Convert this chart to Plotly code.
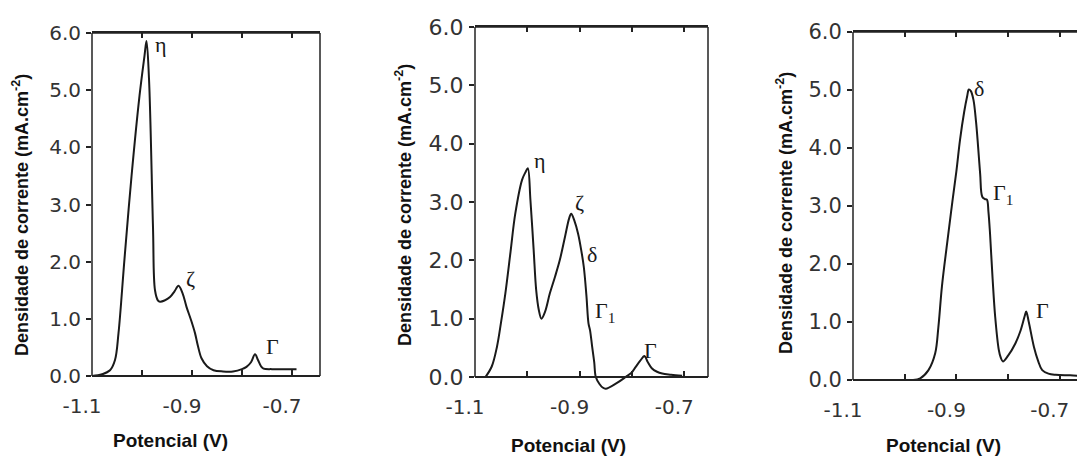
import plotly.graph_objects as go

# ---------------- data ----------------
x1 = [-1.100, -1.080, -1.064, -1.054, -1.047, -1.035, -1.021, -1.005, -0.995, -0.991,
      -0.986, -0.978, -0.974, -0.968, -0.964, -0.955, -0.944, -0.935, -0.927, -0.919,
      -0.911, -0.902, -0.894, -0.888, -0.881, -0.870, -0.857, -0.838, -0.818, -0.800,
      -0.791, -0.782, -0.774, -0.768, -0.762, -0.757, -0.740, -0.720, -0.691]
y1 = [0.00, 0.03, 0.10, 0.28, 0.75, 2.05, 3.49, 4.90, 5.60, 5.86,
      5.20, 2.60, 1.50, 1.32, 1.30, 1.32, 1.38, 1.48, 1.58, 1.45,
      1.21, 0.98, 0.75, 0.52, 0.31, 0.17, 0.10, 0.08, 0.08, 0.12,
      0.16, 0.24, 0.38, 0.28, 0.17, 0.13, 0.12, 0.12, 0.12]

x2 = [-1.080, -1.068, -1.058, -1.050, -1.042, -1.032, -1.023, -1.010, -1.003, -0.999,
      -0.994, -0.988, -0.983, -0.978, -0.973, -0.966, -0.957, -0.947, -0.938, -0.928,
      -0.920, -0.916, -0.910, -0.903, -0.897, -0.892, -0.887, -0.883, -0.880, -0.876,
      -0.872, -0.869, -0.862, -0.856, -0.850, -0.830, -0.812, -0.800, -0.793, -0.784,
      -0.776, -0.770, -0.762, -0.752, -0.742, -0.725, -0.704]
y2 = [0.00, 0.18, 0.52, 0.95, 1.43, 2.15, 2.80, 3.38, 3.52, 3.58,
      3.03, 2.20, 1.49, 1.15, 1.00, 1.12, 1.43, 1.72, 2.00, 2.40,
      2.72, 2.80, 2.68, 2.46, 2.18, 1.89, 1.40, 0.92, 0.80, 0.52,
      0.25, 0.00, -0.12, -0.18, -0.20, -0.11, 0.00, 0.08, 0.17, 0.28,
      0.36, 0.26, 0.15, 0.09, 0.06, 0.04, 0.02]

x3 = [-1.100, -1.050, -1.000, -0.986, -0.970, -0.954, -0.941, -0.935, -0.928, -0.918,
      -0.909, -0.900, -0.893, -0.885, -0.879, -0.876, -0.872, -0.867, -0.862, -0.858,
      -0.854, -0.850, -0.845, -0.841, -0.838, -0.835, -0.830, -0.825, -0.818, -0.814,
      -0.810, -0.800, -0.786, -0.776, -0.768, -0.765, -0.760, -0.750, -0.742, -0.734,
      -0.722, -0.708, -0.680, -0.659]
y3 = [0.00, 0.00, 0.00, 0.00, 0.03, 0.17, 0.46, 0.90, 1.61, 2.35,
      2.99, 3.60, 4.14, 4.62, 4.90, 5.01, 4.98, 4.83, 4.45, 4.02,
      3.55, 3.16, 3.12, 3.11, 2.90, 2.53, 1.75, 1.09, 0.52, 0.38,
      0.32, 0.42, 0.63, 0.85, 1.10, 1.18, 1.00, 0.57, 0.33, 0.17,
      0.11, 0.09, 0.08, 0.07]

x_tick_vals = [-1.1, -0.9, -0.7]
x_tick_text = ["-1.1", "-0.9", "-0.7"]
x_minor_vals = [-1.0, -0.8]
y_tick_vals = [0, 1, 2, 3, 4, 5, 6]
y_tick_text = ["0.0", "1.0", "2.0", "3.0", "4.0", "5.0", "6.0"]

x_title = "Potencial (V)"
y_title = "Densidade de corrente (mA.cm<sup>-2</sup>)"

# peak labels: (panel, x, y, text)
peak_labels = [
    (1, -0.962, 5.80, "η"), (1, -0.904, 1.70, "ζ"), (1, -0.740, 0.52, "Γ"),
    (2, -0.976, 3.72, "η"), (2, -0.900, 3.00, "ζ"), (2, -0.876, 2.10, "δ"),
    (2, -0.852, 1.12, "Γ<sub>1</sub>"), (2, -0.765, 0.45, "Γ"),
    (3, -0.857, 5.02, "δ"), (3, -0.810, 3.20, "Γ<sub>1</sub>"), (3, -0.734, 1.20, "Γ"),
]

# ---------------- figure ----------------
W, H = 1077, 465
fig = go.Figure()
line = dict(color="#1a1a1a", width=2)
for i, (xs, ys) in enumerate([(x1, y1), (x2, y2), (x3, y3)], start=1):
    sfx = "" if i == 1 else str(i)
    fig.add_trace(go.Scatter(x=xs, y=ys, mode="lines", line=line, line_shape="spline",
                             xaxis="x" + sfx, yaxis="y" + sfx, showlegend=False,
                             hoverinfo="skip"))
    # empty trace so the top frame axis gets its own (transparent) subplot
    fig.add_trace(go.Scatter(x=[], y=[], mode="lines", xaxis="x" + str(i + 3),
                             yaxis="y" + sfx, showlegend=False, hoverinfo="skip"))

# panel geometry in pixels: (left, right, y0 pixel, y6 pixel, xmax, ytickfont, ymin)
panels = [
    (92, 320, 376, 33, -1.1 + 228 / 500, 20, 0.0),
    (475, 708, 377, 27, -1.1 + 233 / 523, 22, -0.3),
    (853, 1077, 380, 32, -1.1 + 224 / 517, 21, 0.0),
]

axc = "#222"
tickstyle = dict(ticks="inside", ticklen=5, tickwidth=1.5, tickcolor=axc)
layout = dict(width=W, height=H, margin=dict(l=0, r=0, t=0, b=0, autoexpand=False),
              paper_bgcolor="white", plot_bgcolor="rgba(0,0,0,0)")
shapes = []
for i, (l, r, p0, p6, xmax, yfs, ymin) in enumerate(panels, start=1):
    sfx = "" if i == 1 else str(i)
    ppu = (p0 - p6) / 6.0
    pbot = p0 - ymin * ppu
    dom = [l / W, min(r / W, 1.0)]
    layout["xaxis" + sfx] = dict(
        domain=dom, range=[-1.1, xmax],
        anchor="free", position=1 - p0 / H, automargin=False,
        tickmode="array", tickvals=x_tick_vals, ticktext=x_tick_text,
        minor=dict(tickvals=x_minor_vals, **tickstyle), **tickstyle,
        showline=True, linecolor=axc, linewidth=1.5,
        showgrid=False, zeroline=False, ticklabelshift=-10, ticklabelstandoff=12,
        tickfont=dict(family="DejaVu Sans", size=20, color="#333"),
    )
    # top frame axis (ticks only, inside)
    layout["xaxis" + str(i + 3)] = dict(
        domain=dom, range=[-1.1, xmax], anchor="y" + sfx, side="top",
        matches="x" + sfx, automargin=False,
        tickmode="array", tickvals=x_tick_vals, showticklabels=False,
        minor=dict(tickvals=x_minor_vals, **tickstyle), **tickstyle,
        showline=True, linecolor=axc, linewidth=1.5, showgrid=False, zeroline=False,
    )
    layout["yaxis" + sfx] = dict(
        domain=[1 - pbot / H, 1 - p6 / H], range=[ymin, 6], anchor="x" + sfx,
        automargin=False,
        tickmode="array", tickvals=y_tick_vals, ticktext=y_tick_text,
        ticks="outside", ticklen=5, tickwidth=1.5, tickcolor=axc,
        showline=False, showgrid=False, zeroline=False, ticklabelstandoff=1,
        tickfont=dict(family="DejaVu Sans", size=yfs, color="#333"),
    )
    xr = "x" + sfx + " domain"
    yr = "y" + sfx
    frame = dict(color=axc, width=1.5)
    shapes.append(dict(type="line", xref=xr, yref=yr, x0=0, x1=0, y0=0, y1=6, line=frame))
    shapes.append(dict(type="line", xref=xr, yref=yr, x0=0, x1=1, y0=6, y1=6, line=frame))
    if i != 3:
        shapes.append(dict(type="line", xref=xr, yref=yr, x0=1, x1=1, y0=0, y1=6,
                           line=frame))
fig.update_layout(**layout)
fig.update_layout(shapes=shapes)

ann = []
for (cx, cy) in [(20, 215), (403, 205), (785, 213)]:
    ann.append(dict(x=cx / W, y=1 - cy / H, xref="paper", yref="paper", text=y_title,
                    textangle=-90, showarrow=False, xanchor="center", yanchor="middle",
                    font=dict(family="Liberation Sans, Arial", size=18, color="#111",
                              weight="bold")))
for (cx, cy) in [(170, 440), (568, 445), (943, 445)]:
    ann.append(dict(x=cx / W, y=1 - cy / H, xref="paper", yref="paper", text=x_title,
                    showarrow=False, xanchor="center", yanchor="middle",
                    font=dict(family="Liberation Sans, Arial", size=19, color="#111",
                              weight="bold")))
for p, px, py, txt in peak_labels:
    sfx = "" if p == 1 else str(p)
    ann.append(dict(x=px, y=py, xref="x" + sfx, yref="y" + sfx, text=txt,
                    showarrow=False, xanchor="center", yanchor="middle",
                    font=dict(family="Liberation Serif", size=22, color="#1a1a1a")))
fig.update_layout(annotations=ann)

fig.write_html("out.html")
